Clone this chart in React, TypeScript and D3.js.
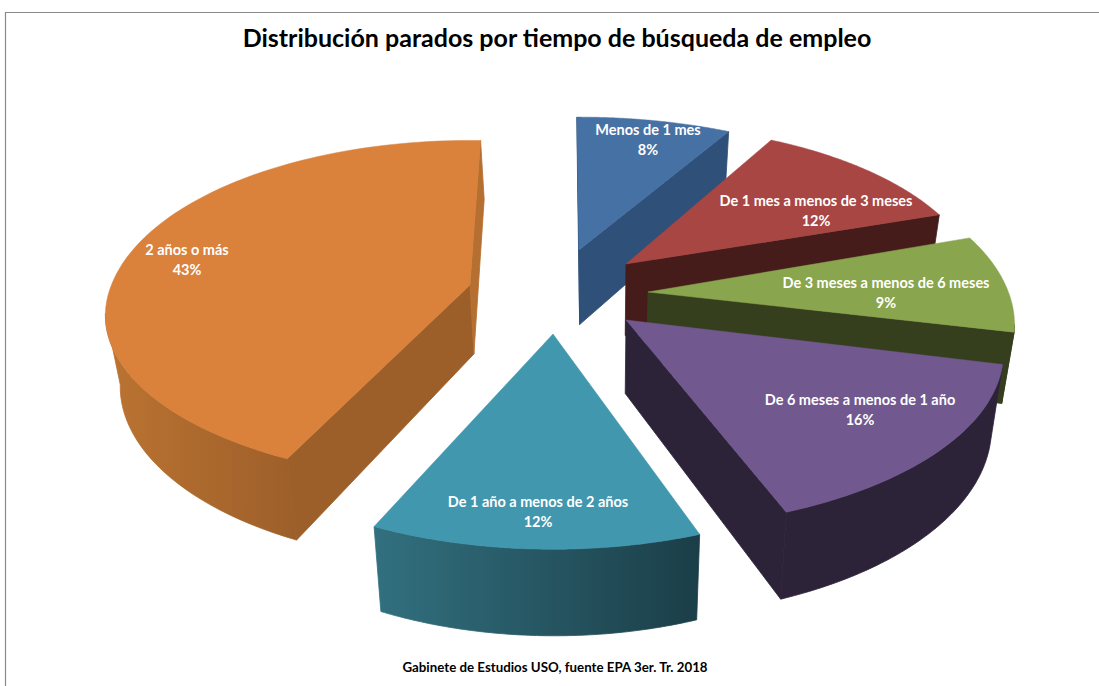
import React from "react";
import * as d3 from "d3";

const categories = [
  "Menos de 1 mes",
  "De 1 mes a menos de 3 meses",
  "De 3 meses a menos de 6 meses",
  "De 6 meses a menos de 1 año",
  "De 1 año a menos de 2 años",
  "2 años o más",
];
const shares = [8, 12, 9, 16, 12, 43];
const titleText = "Distribución parados por tiempo de búsqueda de empleo";
const sourceText = "Gabinete de Estudios USO, fuente EPA 3er. Tr. 2018";

const topColors = ["#4671a5", "#a84644", "#89a54e", "#71588f", "#4197ae", "#da813b"];
const wallColors = ["#2f5078", "#451c1a", "#363f1d", "#2d2339", "#2f7080", "#9d5f2a"];
const arcStops = [
  ["#2f5078", "#2f5078"],
  ["#451c1a", "#451c1a"],
  ["#363f1d", "#363f1d"],
  ["#2d2339", "#2d2339"],
  ["#32707f", "#1b3e48"],
  ["#bb7331", "#9d5f2a"],
];
const apexes: [number, number][] = [[579, 250], [626, 264], [648, 292], [626, 320], [553, 334], [470, 285]];
// x scale, upper-half y scale, lower-half y scale of each exploded slice
const radiusScale: [number, number, number][] = [
  [0.98, 0.91, 1],
  [0.96, 0.95, 1],
  [0.99, 1.02, 1],
  [1.02, 1, 0.99],
  [1, 1, 1.02],
  [0.985, 0.99, 0.93],
];
// small per-slice corrections (degrees) for the foreshortening of the original 3D view
const angleNudge: [number, number][] = [[-0.4, 0.3], [0, -0.5], [-1, -1.5], [0, -3], [-1.5, -1], [0, 2]];
const depthExtra = [9, 5, 0, 3, 0, 1];
const labelCenters: [number, number][] = [[648, 130], [816, 201], [886, 283], [860, 400], [538, 502], [187, 250]];
const paintOrder = [0, 1, 2, 5, 4, 3];

const W = 1099, H = 686;
const RX = 364, RY = 172.6, K = 0.182;
const depth = d3.scaleLinear().domain([285, 527]).range([68, 85]);
const bottomX = (x: number) => x + (600 - x) * 0.03;
const line = d3.line<[number, number]>();
const rad = (d: number) => (d * Math.PI) / 180;

const arcs = d3.pie<number>().sort(null).startAngle(0).endAngle(2 * Math.PI)(shares);

function project(i: number, a: number): [number, number] {
  const X = Math.sin(a), Y = Math.cos(a), s = 1 / (1 + K * Y);
  const [sx, su, sd] = radiusScale[i];
  return [apexes[i][0] + RX * X * s * sx, apexes[i][1] - RY * Y * s * (Y > 0 ? su : sd)];
}
const lower = (i: number, p: [number, number]): [number, number] => [bottomX(p[0]), p[1] + depth(p[1]) + depthExtra[i]];
const wallPath = (i: number, pts: [number, number][]) => {
  const low = pts.map((p) => lower(i, p)).reverse();
  return line([...pts, ...low]) + "Z";
};

export default function App() {
  const slices = paintOrder.map((i) => {
    const arc = arcs[i];
    const a0 = arc.startAngle + rad(angleNudge[i][0]);
    const a1 = arc.endAngle + rad(angleNudge[i][1]);
    const pts = d3.range(0, 81).map((t) => project(i, a0 + ((a1 - a0) * t) / 80));
    const apex = apexes[i];
    const first = pts[0], last = pts[pts.length - 1];
    const walls: string[] = [];
    if (first[0] < apex[0]) walls.push(wallPath(i, [apex, first]));
    if (apex[0] < last[0]) walls.push(wallPath(i, [last, apex]));
    const run: [number, number][] = [];
    pts.forEach((p, k) => {
      if (k > 0 && p[0] < pts[k - 1][0]) {
        if (run.length === 0) run.push(pts[k - 1]);
        run.push(p);
      }
    });
    return { i, pts, walls, run, top: line([apex, ...pts]) + "Z" };
  });

  return (
    <svg width={W} height={H} viewBox={`0 0 ${W} ${H}`} style={{ position: "absolute", left: 0, top: 0, background: "#fff" }}>
      <defs>
        {arcStops.map((s, i) => (
          <linearGradient key={i} id={`arc${i}`}>
            <stop offset="0" stopColor={s[0]} />
            <stop offset="1" stopColor={s[1]} />
          </linearGradient>
        ))}
      </defs>
      <path d={`M5.5 686V12.5H1099`} fill="none" stroke="#8a8a8a" strokeWidth={1.2} />
      <text x={557} y={47} textAnchor="middle" fontFamily="Lato" fontWeight={700} fontSize={25} fill="#000">{titleText}</text>
      {slices.map((sl) => (
        <g key={sl.i}>
          {sl.run.length > 1 && (
            <path d={wallPath(sl.i, sl.run)} fill={`url(#arc${sl.i})`} stroke={`url(#arc${sl.i})`} strokeWidth={0.8} />
          )}
          {sl.walls.map((d, k) => {
            const c = sl.i === 5 && k === 1 ? "#b56f30" : wallColors[sl.i];
            return <path key={k} d={d} fill={c} stroke={c} strokeWidth={0.8} />;
          })}
          <path d={sl.top} fill={topColors[sl.i]} stroke={topColors[sl.i]} strokeWidth={0.5} />
        </g>
      ))}
      {categories.map((c, i) => (
        <text key={c} x={labelCenters[i][0]} y={labelCenters[i][1] + 4.5} textAnchor="middle" fontFamily="Lato" fontWeight={700} fontSize={14.5} fill="#fff">
          <tspan x={labelCenters[i][0]}>{c}</tspan>
          <tspan x={labelCenters[i][0]} dy={20}>{shares[i]}%</tspan>
        </text>
      ))}
      <text x={555} y={672} textAnchor="middle" fontFamily="Lato" fontWeight={700} fontSize={13.3} fill="#000">{sourceText}</text>
    </svg>
  );
}
